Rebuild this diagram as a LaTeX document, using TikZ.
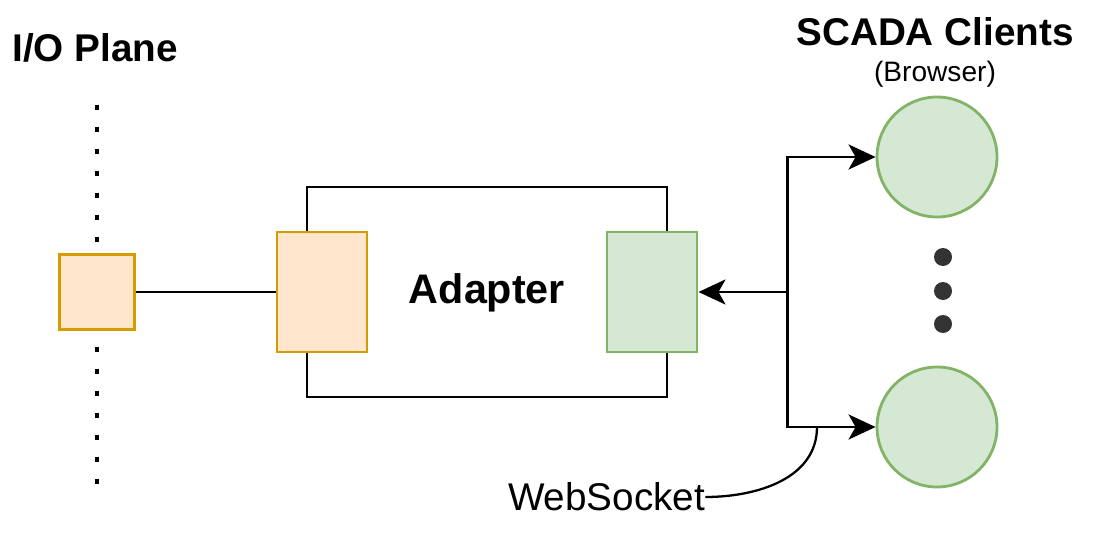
\documentclass[tikz,border=0pt]{standalone}
\usepackage{fontspec}
\setmainfont{Liberation Sans}
\usetikzlibrary{arrows.meta}
\definecolor{orangefill}{HTML}{FFE6CC}
\definecolor{orangeline}{HTML}{D79B00}
\definecolor{greenfill}{HTML}{D5E8D4}
\definecolor{greenline}{HTML}{82B366}
\definecolor{dotgray}{HTML}{333333}
\tikzstyle{inport}=[rectangle,draw=orangeline,fill=orangefill,line width=1.7pt,inner sep=0pt]
\tikzstyle{outport}=[rectangle,draw=greenline,fill=greenfill,line width=1.7pt,inner sep=0pt,minimum width=1.8cm,minimum height=2.4cm]
\tikzstyle{client}=[circle,draw=greenline,fill=greenfill,line width=1.6pt,minimum size=2.4cm,inner sep=0pt]
\tikzstyle{moredot}=[circle,fill=dotgray,minimum size=0.36cm,inner sep=0pt]
\tikzstyle{wire}=[line width=1.7pt]
\tikzstyle{arrow}=[wire,-{Stealth[length=5.4mm,width=5mm,inset=1.4mm]}]
\tikzstyle{title}=[font=\bfseries\fontsize{22}{26}\selectfont]

\begin{document}
\begin{tikzpicture}
\useasboundingbox (0, 0) rectangle (21.9, 11.1);
% I/O plane
\node[title] at (1.9, 10.14) (plane) {I/O Plane};
\coordinate (top) at (1.94, 9.0);
\coordinate (bottom) at (1.94, 1.2);
\draw[line width=0.09cm, dash pattern=on 0.09cm off 0.35cm] (top) -- (bottom);
\node[inport, minimum size=1.5cm] at (1.94, 5.26) (io) {};

% adapter
\node[rectangle, draw, wire, minimum width=7.2cm, minimum height=4.2cm] at (9.74, 5.26) (adapter) {};
\node[inport, minimum width=1.8cm, minimum height=2.4cm] at (6.44, 5.26) (in) {};
\node[outport] at (13.04, 5.26) (out) {};
\node[title, font=\bfseries\fontsize{23.5}{27}\selectfont] at (9.74, 5.24) (label) {Adapter};
\draw[wire] (io) -- (in);

% clients
\node[title] at (18.7, 10.46) (scada) {SCADA Clients};
\node[font=\fontsize{16}{18}\selectfont] at (18.7, 9.62) (browser) {(Browser)};
\node[client] at (18.74, 7.96) (c1) {};
\node[client] at (18.74, 2.56) (c2) {};
\node[moredot] at (18.86, 5.96) (d1) {};
\node[moredot] at (18.86, 5.28) (d2) {};
\node[moredot] at (18.86, 4.62) (d3) {};

\coordinate (hub) at (15.74, 5.26);
\draw[arrow] (hub) -- (out.east);
\draw[arrow] (hub) |- (c1.west);
\draw[arrow] (hub) |- (c2.west);

% websocket
\node[font=\fontsize{22}{25}\selectfont, inner sep=0pt] at (12.13, 1.16) (ws) {WebSocket};
\coordinate (tap) at (16.34, 2.56);
\draw[line width=1.3pt] (ws.east) to[out=0, in=-90] (tap);
\end{tikzpicture}
\end{document}
